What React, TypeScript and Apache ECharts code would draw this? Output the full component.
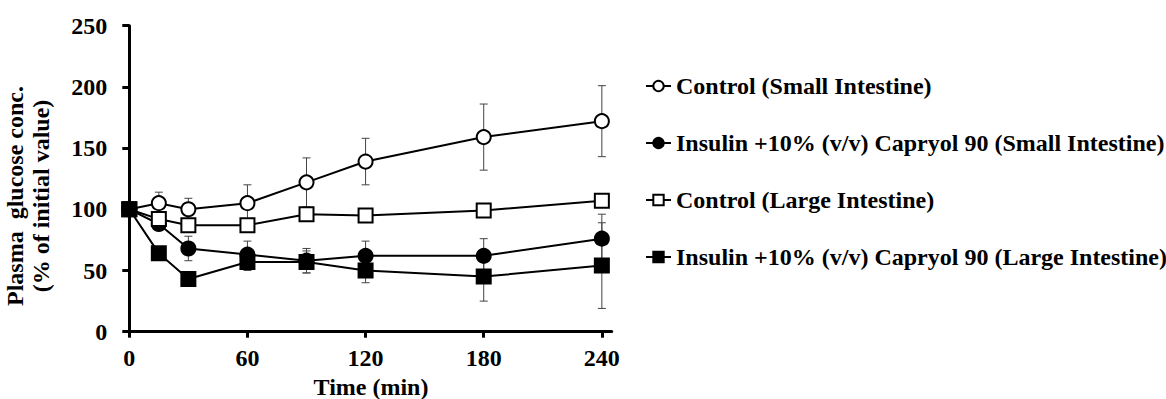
import React, { useEffect, useRef } from "react";
import * as echarts from "echarts";

const times = [0, 15, 30, 60, 90, 120, 180, 240];
const xTickValues = [0, 60, 120, 180, 240];

const ctrlSI = [100, 105, 100, 105, 122, 139, 159, 172];
const ctrlSISd = [0, 9, 9, 15, 20, 19, 27, 29];
const insSI = [100, 88, 68, 63, 58, 62, 62, 76];
const insSISd = [0, 3, 10, 11, 10, 12, 14, 20];
const ctrlLI = [100, 92, 87, 87, 96, 95, 99, 107];
const ctrlLISd = [0, 3, 3, 3, 4, 4, 4, 4];
const insLI = [100, 64, 43, 57, 57, 50, 45, 54];
const insLISd = [0, 4, 4, 7, 9, 10, 20, 35];

const names = [
  "Control (Small Intestine)",
  "Insulin +10% (v/v) Capryol 90 (Small Intestine)",
  "Control (Large Intestine)",
  "Insulin +10% (v/v) Capryol 90 (Large Intestine)",
];

const FONT = '"Liberation Serif", "Times New Roman", serif';

export default function App() {
  const ref = useRef<HTMLDivElement>(null);
  useEffect(() => {
    if (!ref.current) return;
    const chart = echarts.init(ref.current, null, { renderer: "svg" });

    const seriesDefs = [
      { name: names[0], vals: ctrlSI, sd: ctrlSISd, symbol: "circle", fill: "#fff" },
      { name: names[1], vals: insSI, sd: insSISd, symbol: "circle", fill: "#000" },
      { name: names[2], vals: ctrlLI, sd: ctrlLISd, symbol: "rect", fill: "#fff" },
      { name: names[3], vals: insLI, sd: insLISd, symbol: "rect", fill: "#000" },
    ];

    const errData: number[][] = [];
    seriesDefs.forEach((s) => {
      s.vals.forEach((v, i) => {
        if (s.sd[i] > 0) errData.push([times[i], v, s.sd[i]]);
      });
    });

    const lineSeries = seriesDefs.map((s, k) => ({
      type: "line",
      name: s.name,
      data: times.map((t, i) => [t, s.vals[i]]),
      symbol: s.symbol,
      symbolSize: 14,
      z: 3 + k,
      lineStyle: { color: "#000", width: 2 },
      itemStyle: { color: s.fill, borderColor: "#000", borderWidth: 2 },
      emphasis: { disabled: true },
      silent: true,
    }));

    const option: any = {
      animation: false,
      backgroundColor: "#fff",
      grid: { left: 129.3, right: 554.3, top: 25.7, bottom: 67.3 },
      xAxis: {
        type: "value",
        min: 0,
        max: 245,
        interval: 60,
        axisLine: { show: true, onZero: false, lineStyle: { color: "#000", width: 3 } },
        axisTick: {
          show: true,
          length: 6,
          inside: false,
          customValues: xTickValues,
          lineStyle: { color: "#000", width: 3 },
        },
        axisLabel: {
          customValues: xTickValues,
          margin: 14,
          color: "#000",
          fontFamily: FONT,
          fontWeight: "bold",
          fontSize: 24,
        },
        splitLine: { show: false },
      },
      yAxis: {
        type: "value",
        min: 0,
        max: 250,
        interval: 50,
        axisLine: { show: true, onZero: false, lineStyle: { color: "#000", width: 3 } },
        axisTick: { show: true, length: 7, lineStyle: { color: "#000", width: 3 } },
        axisLabel: {
          margin: 22,
          color: "#000",
          fontFamily: FONT,
          fontWeight: "bold",
          fontSize: 24,
        },
        splitLine: { show: false },
      },
      legend: {
        orient: "vertical",
        left: 640,
        top: 69,
        itemWidth: 25,
        itemHeight: 13,
        itemGap: 33,
        selectedMode: false,
        textStyle: { color: "#000", fontFamily: FONT, fontWeight: "bold", fontSize: 24 },
        data: names,
      },
      graphic: [
        {
          type: "text",
          x: 28,
          y: 196,
          rotation: Math.PI / 2,
          style: {
            text: "Plasma\u00a0\u00a0glucose conc.\n(% of initial value)",
            fontFamily: FONT,
            fontWeight: "bold",
            fontSize: 24,
            lineHeight: 26,
            fill: "#000",
            textAlign: "center",
            align: "center",
            textVerticalAlign: "middle",
            verticalAlign: "middle",
          },
        },
        {
          type: "text",
          x: 371,
          y: 387,
          style: {
            text: "Time (min)",
            fontFamily: FONT,
            fontWeight: "bold",
            fontSize: 24,
            fill: "#000",
            textAlign: "center",
            align: "center",
            textVerticalAlign: "middle",
            verticalAlign: "middle",
          },
        },
      ],
      series: [
        {
          type: "custom",
          name: "err",
          z: 1,
          silent: true,
          data: errData,
          renderItem: (params: any, api: any) => {
            const t = api.value(0);
            const m = api.value(1);
            const sd = api.value(2);
            const top = api.coord([t, m + sd]);
            const bot = api.coord([t, m - sd]);
            const cap = 4;
            const style = { stroke: "#444", lineWidth: 1 };
            return {
              type: "group",
              children: [
                { type: "line", shape: { x1: top[0], y1: top[1], x2: bot[0], y2: bot[1] }, style },
                { type: "line", shape: { x1: top[0] - cap, y1: top[1], x2: top[0] + cap, y2: top[1] }, style },
                { type: "line", shape: { x1: bot[0] - cap, y1: bot[1], x2: bot[0] + cap, y2: bot[1] }, style },
              ],
            };
          },
        },
        ...lineSeries,
      ],
    };

    chart.setOption(option);
    return () => chart.dispose();
  }, []);

  return (
    <div
      ref={ref}
      style={{ position: "absolute", left: 0, top: 0, width: 1166, height: 399 }}
    />
  );
}
